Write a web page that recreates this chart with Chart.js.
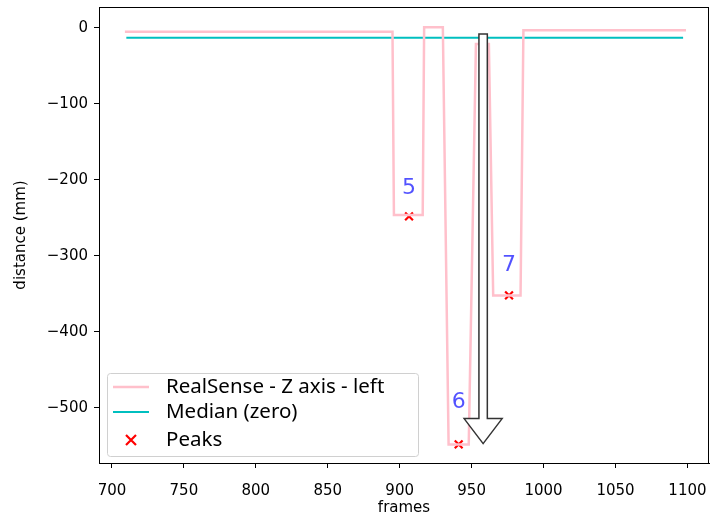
<!DOCTYPE html>
<html>
<head>
<meta charset="utf-8">
<script src="https://cdn.jsdelivr.net/npm/chart.js@4.4.0/dist/chart.umd.min.js"></script>
<style>
  html, body { margin: 0; padding: 0; background: #fff; }
  #wrap { width: 710px; height: 521px; }
</style>
</head>
<body>
<div id="wrap"><canvas id="chart"></canvas></div>
<script>
// ---------- Data ----------
const signalX = [709, 895, 896, 916, 917, 930, 934, 948, 953, 962, 965, 984, 986, 1099];
const signalY = [-5, -5, -246, -246, 1, 1, -548, -548, -21, -21, -352, -352, -3, -3];
const medianX = [710, 1097];
const medianY = [-13, -13];
const peakX = [906.5, 941, 976];
const peakY = [-248, -548, -352];
const peakLabels = ["5", "6", "7"];
const peakLabelY = [-211, -492, -312];
const arrowX = 958;
const arrowFrom = -8;
const arrowTo = -547;
const xTicks = [700, 750, 800, 850, 900, 950, 1000, 1050, 1100];
const yTicks = [0, -100, -200, -300, -400, -500];

const seriesNames = ["RealSense - Z axis - left", "Median (zero)", "Peaks"];

function toPoints(xs, ys) {
  return xs.map((x, i) => ({ x, y: ys[i] }));
}

const tickFont = { family: "DejaVu Sans", size: 15 };

// ---------- Plugins ----------
const framePlugin = {
  id: "frame",
  afterDraw(chart) {
    const { ctx, chartArea: a } = chart;
    ctx.save();
    ctx.strokeStyle = "#000";
    ctx.lineWidth = 1;
    ctx.strokeRect(a.left + 0.5, a.top + 0.5, a.right - a.left - 1, a.bottom - a.top);
    ctx.restore();
  }
};

const annotatePlugin = {
  id: "annotate",
  afterDatasetsDraw(chart) {
    const { ctx } = chart;
    const xs = chart.scales.x, ys = chart.scales.y;

    // peak numbers
    ctx.save();
    ctx.fillStyle = "rgba(0, 0, 255, 0.68)";
    ctx.font = "22px 'DejaVu Sans'";
    ctx.textAlign = "center";
    ctx.textBaseline = "middle";
    peakLabels.forEach((t, i) => {
      ctx.fillText(t, xs.getPixelForValue(peakX[i]), ys.getPixelForValue(peakLabelY[i]));
    });
    ctx.restore();

    // hollow arrow
    const cx = xs.getPixelForValue(arrowX);
    const y0 = ys.getPixelForValue(arrowFrom);
    const y1 = ys.getPixelForValue(arrowTo);
    const shaft = 4.2, head = 19, headLen = 25;
    ctx.save();
    ctx.beginPath();
    ctx.moveTo(cx - shaft, y0);
    ctx.lineTo(cx + shaft, y0);
    ctx.lineTo(cx + shaft, y1 - headLen);
    ctx.lineTo(cx + head, y1 - headLen);
    ctx.lineTo(cx, y1);
    ctx.lineTo(cx - head, y1 - headLen);
    ctx.lineTo(cx - shaft, y1 - headLen);
    ctx.closePath();
    ctx.fillStyle = "#fff";
    ctx.fill();
    ctx.strokeStyle = "#333";
    ctx.lineWidth = 1.5;
    ctx.stroke();
    ctx.restore();
  },
  afterDraw(chart) {
    // legend box, lower left inside the axes
    const { ctx, chartArea: a } = chart;
    const bx = a.left + 8, bw = 311, bh = 83;
    const by = a.bottom - 7 - bh;
    ctx.save();
    ctx.fillStyle = "rgba(255,255,255,0.8)";
    ctx.strokeStyle = "#d0d0d0";
    ctx.lineWidth = 1;
    ctx.beginPath();
    ctx.roundRect(bx + 0.5, by + 0.5, bw, bh, 3);
    ctx.fill();
    ctx.stroke();

    const rows = [by + 14, by + 39, by + 67];
    ctx.font = "20.5px 'Noto Sans'";
    ctx.textBaseline = "middle";
    chart.data.datasets.forEach((ds, i) => {
      const y = rows[i];
      if (i < 2) {
        ctx.strokeStyle = ds.borderColor;
        ctx.lineWidth = ds.borderWidth;
        ctx.beginPath();
        ctx.moveTo(bx + 6, y);
        ctx.lineTo(bx + 42, y);
        ctx.stroke();
      } else {
        ctx.strokeStyle = ds.pointBorderColor;
        ctx.lineWidth = 2.2;
        const mx = bx + 24, s = 5;
        ctx.beginPath();
        ctx.moveTo(mx - s, y - s); ctx.lineTo(mx + s, y + s);
        ctx.moveTo(mx + s, y - s); ctx.lineTo(mx - s, y + s);
        ctx.stroke();
      }
      ctx.fillStyle = "#000";
      ctx.fillText(ds.label, bx + 59, y);
    });
    ctx.restore();
  }
};

// ---------- Chart ----------
new Chart(document.getElementById("chart"), {
  type: "scatter",
  data: {
    datasets: [
      {
        label: seriesNames[0],
        data: toPoints(signalX, signalY),
        showLine: true,
        borderColor: "#ffc0cb",
        borderWidth: 2.5,
        pointRadius: 0,
        tension: 0
      },
      {
        label: seriesNames[1],
        data: toPoints(medianX, medianY),
        showLine: true,
        borderColor: "#00bfbf",
        borderWidth: 2,
        pointRadius: 0
      },
      {
        label: seriesNames[2],
        data: toPoints(peakX, peakY),
        showLine: false,
        pointStyle: "crossRot",
        pointRadius: 5.5,
        pointBorderWidth: 2.2,
        pointBorderColor: "#ff0000",
        pointBackgroundColor: "#ff0000"
      }
    ]
  },
  options: {
    responsive: true,
    maintainAspectRatio: false,
    animation: false,
    layout: { autoPadding: false, padding: { top: 7, right: 1, left: 0, bottom: 0 } },
    plugins: {
      legend: { display: false },
      tooltip: { enabled: false }
    },
    scales: {
      x: {
        type: "linear",
        min: 691,
        max: 1115,
        afterBuildTicks: (s) => { s.ticks = xTicks.map((v) => ({ value: v })); },
        afterFit: (s) => { s.height = 58; s.paddingLeft = 0; s.paddingRight = 0; },
        ticks: { color: "#000", font: tickFont, padding: 14, maxRotation: 0, callback: (v) => String(v) },
        grid: { drawOnChartArea: false, drawTicks: true, tickLength: 5, color: "#000" },
        border: { display: true, color: "#000" },
        title: { display: true, text: "frames", color: "#000", font: tickFont, padding: { top: 0, bottom: 4 } }
      },
      y: {
        type: "linear",
        min: -572.5,
        max: 27.6,
        afterBuildTicks: (s) => { s.ticks = yTicks.map((v) => ({ value: v })); },
        afterFit: (s) => { s.width = 99; s.paddingTop = 0; s.paddingBottom = 0; },
        ticks: {
          color: "#000",
          font: tickFont,
          padding: 6,
          callback: (v) => String(v).replace("-", "\u2212")
        },
        grid: { drawOnChartArea: false, drawTicks: true, tickLength: 5, color: "#000" },
        border: { display: true, color: "#000" },
        title: { display: true, text: "distance (mm)", color: "#000", font: tickFont, padding: { top: 12, bottom: 0 } }
      }
    }
  },
  plugins: [framePlugin, annotatePlugin]
});
</script>
</body>
</html>
